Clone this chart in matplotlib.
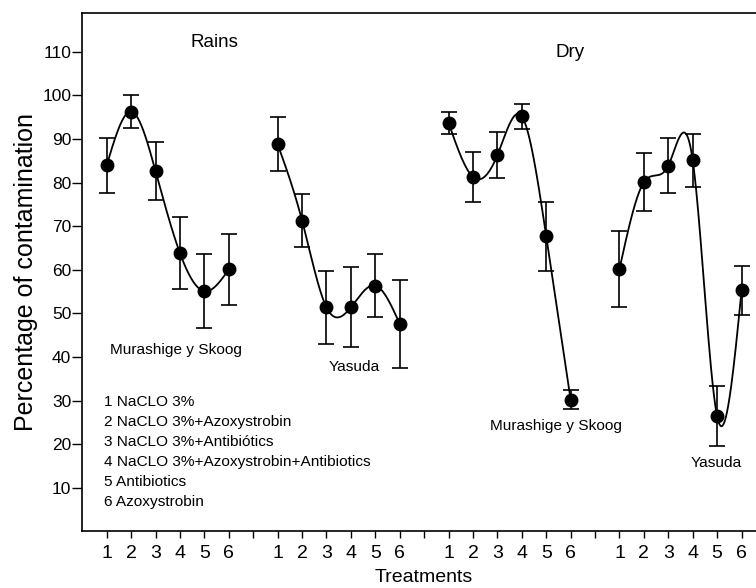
import numpy as np
import matplotlib
matplotlib.use("Agg")
import matplotlib.pyplot as plt

plt.rcParams['font.family'] = ['Liberation Sans', 'DejaVu Sans']

# --- data ---
treatments = [1, 2, 3, 4, 5, 6]
rains_ms = [84.0, 96.3, 82.6, 63.8, 55.1, 60.1]
rains_ms_err = [6.3, 3.7, 6.7, 8.2, 8.5, 8.1]
rains_yas = [88.8, 71.3, 51.4, 51.4, 56.4, 47.6]
rains_yas_err = [6.2, 6.1, 8.3, 9.2, 7.2, 10.0]
dry_ms = [93.7, 81.3, 86.3, 95.2, 67.7, 30.2]
dry_ms_err = [2.6, 5.7, 5.3, 2.9, 7.9, 2.2]
dry_yas = [60.2, 80.1, 83.9, 85.1, 26.4, 55.3]
dry_yas_err = [8.8, 6.7, 6.3, 6.0, 6.9, 5.6]

legend_lines = ["1 NaCLO 3%",
                "2 NaCLO 3%+Azoxystrobin",
                "3 NaCLO 3%+Antibiótics",
                "4 NaCLO 3%+Azoxystrobin+Antibiotics",
                "5 Antibiotics",
                "6 Azoxystrobin"]


def natural_spline(x, y, xs):
    # plain natural cubic spline, just for the smooth connecting line
    x = np.asarray(x, float)
    y = np.asarray(y, float)
    n = len(x)
    h = np.diff(x)
    A = np.zeros((n, n))
    b = np.zeros(n)
    A[0, 0] = 1.0
    A[-1, -1] = 1.0
    for i in range(1, n - 1):
        A[i, i - 1] = h[i - 1]
        A[i, i] = 2 * (h[i - 1] + h[i])
        A[i, i + 1] = h[i]
        b[i] = 3 * ((y[i + 1] - y[i]) / h[i] - (y[i] - y[i - 1]) / h[i - 1])
    c = np.linalg.solve(A, b)
    idx = np.clip(np.searchsorted(x, xs) - 1, 0, n - 2)
    dx = xs - x[idx]
    bb = (y[idx + 1] - y[idx]) / h[idx] - h[idx] * (2 * c[idx] + c[idx + 1]) / 3
    dd = (c[idx + 1] - c[idx]) / (3 * h[idx])
    return y[idx] + bb * dx + c[idx] * dx ** 2 + dd * dx ** 3


fig = plt.figure(figsize=(7.56, 5.88), dpi=100)
ax = fig.add_axes([0.1089, 0.0961, 0.9043, 0.8826])

groups = [(rains_ms, rains_ms_err), (rains_yas, rains_yas_err),
          (dry_ms, dry_ms_err), (dry_yas, dry_yas_err)]
for g, (vals, errs) in enumerate(groups):
    pos = np.array(treatments) + 7 * g
    xs = np.linspace(pos[0], pos[-1], 300)
    ax.plot(xs, natural_spline(pos, vals, xs), color='black', lw=1.3, zorder=2)
    ax.errorbar(pos, vals, yerr=errs, fmt='none', ecolor='black',
                elinewidth=1.2, capsize=5.5, capthick=1.2, zorder=3)
    ax.plot(pos, vals, 'o', color='black', ms=9, zorder=4)

ticks = list(range(1, 28))
labels = [str((t - 1) % 7 + 1) if t % 7 != 0 else '' for t in ticks]
ax.set_xticks(ticks)
ax.set_xticklabels(labels, fontsize=14)
ax.set_yticks(range(10, 120, 10))
ax.tick_params(axis='y', labelsize=12.5, length=7, width=1, pad=1)
ax.tick_params(axis='x', length=5, width=1, pad=5)
ax.set_xlim(0, 28)
ax.set_ylim(0, 119)
ax.spines['right'].set_visible(False)
for s in ['left', 'bottom', 'top']:
    ax.spines[s].set_linewidth(1.2)

ax.set_ylabel('Percentage of contamination', fontsize=18, labelpad=3)
ax.set_xlabel('Treatments', fontsize=14, labelpad=5)

ax.text(5.43, 112.1, 'Rains', fontsize=13.5, ha='center', va='center')
ax.text(19.96, 109.8, 'Dry', fontsize=13.5, ha='center', va='center')
ax.text(3.84, 41.6, 'Murashige y Skoog', fontsize=11.1, ha='center', va='center')
ax.text(11.16, 37.8, 'Yasuda', fontsize=11.1, ha='center', va='center')
ax.text(19.39, 24.1, 'Murashige y Skoog', fontsize=11.1, ha='center', va='center')
ax.text(25.98, 15.8, 'Yasuda', fontsize=11.1, ha='center', va='center')

for i, line in enumerate(legend_lines):
    ax.text(0.89, 29.8 - i * 4.6, line, fontsize=11.1, ha='left', va='center')

fig.savefig('out.png', dpi=100)
